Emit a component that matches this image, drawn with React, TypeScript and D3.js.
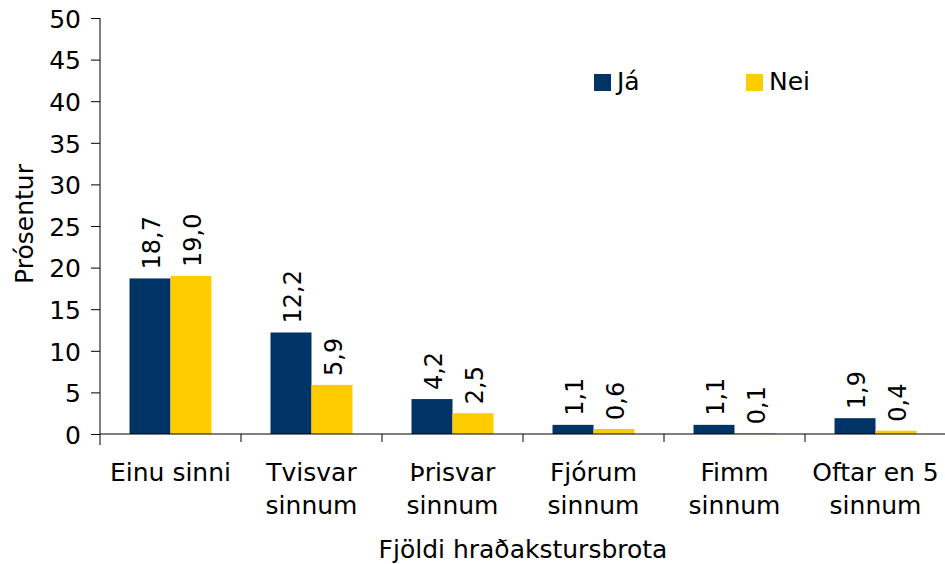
import React, { useEffect, useRef } from "react";
import * as d3 from "d3";

const categories = [
  ["Einu sinni"],
  ["Tvisvar", "sinnum"],
  ["Þrisvar", "sinnum"],
  ["Fjórum", "sinnum"],
  ["Fimm", "sinnum"],
  ["Oftar en 5", "sinnum"],
];
const seriesNames = ["Já", "Nei"];
const jaValues = [18.7, 12.2, 4.2, 1.1, 1.1, 1.9];
const neiValues = [19.0, 5.9, 2.5, 0.6, 0.1, 0.4];
const yTicks = [0, 5, 10, 15, 20, 25, 30, 35, 40, 45, 50];
const colors = ["#003366", "#FFCC00"];

const FONT = "Verdana, 'DejaVu Sans', sans-serif";

const App = () => {
  const svgRef = useRef<SVGSVGElement>(null);

  useEffect(() => {
    const svg = d3.select(svgRef.current);
    svg.selectAll("*").remove();

    const width = 945, height = 564;
    const margin = { top: 18, right: -1, bottom: 130, left: 100 };
    const plotBottom = height - margin.bottom;

    const keys = categories.map(c => c.join(" "));
    const series = [jaValues, neiValues];

    const x0 = d3.scaleBand()
      .domain(keys)
      .range([margin.left, width - margin.right])
      .padding(0);

    const x1 = d3.scaleBand()
      .domain(seriesNames)
      .range([0, x0.bandwidth()])
      .paddingInner(0)
      .paddingOuter(0.72);

    const y = d3.scaleLinear()
      .domain([0, 50])
      .range([plotBottom, margin.top]);

    // bars
    seriesNames.forEach((name, si) => {
      svg.append("g")
        .selectAll("rect")
        .data(series[si])
        .join("rect")
        .attr("x", (d, i) => x0(keys[i])! + x1(name)!)
        .attr("y", d => y(d))
        .attr("width", x1.bandwidth())
        .attr("height", d => y(0) - y(d))
        .attr("fill", colors[si]);

      svg.append("g")
        .selectAll("text")
        .data(series[si])
        .join("text")
        .attr("transform", (d, i) => {
          const cx = x0(keys[i])! + x1(name)! + x1.bandwidth() / 2 + 2;
          return `translate(${cx},${y(d) - 9}) rotate(-90)`;
        })
        .attr("dy", "0.35em")
        .attr("font-family", FONT)
        .attr("font-size", 24)
        .attr("fill", "#000")
        .text(d => d.toFixed(1).replace(".", ","));
    });

    // y axis
    const yAxis = svg.append("g")
      .attr("transform", `translate(${margin.left},0)`)
      .call(d3.axisLeft(y).tickValues(yTicks).tickSize(9).tickSizeOuter(0).tickPadding(10));
    yAxis.selectAll("text")
      .attr("font-family", FONT)
      .attr("font-size", 25)
      .attr("fill", "#000")
      .attr("dy", "0.37em");
    yAxis.select(".domain").attr("d", `M0,${margin.top}V${plotBottom + 11}`).attr("stroke", "#000");
    yAxis.selectAll(".tick line").attr("stroke", "#000");

    // x axis
    const xAxis = svg.append("g");
    xAxis.append("line")
      .attr("x1", margin.left).attr("x2", width)
      .attr("y1", plotBottom).attr("y2", plotBottom)
      .attr("stroke", "#000");
    xAxis.selectAll("line.tick")
      .data(keys.slice(1))
      .join("line")
      .attr("class", "tick")
      .attr("x1", d => x0(d)!).attr("x2", d => x0(d)!)
      .attr("y1", plotBottom).attr("y2", plotBottom + 8)
      .attr("stroke", "#000");

    const catLabels = xAxis.selectAll("text.cat")
      .data(categories)
      .join("text")
      .attr("class", "cat")
      .attr("font-family", FONT)
      .attr("font-size", 25)
      .attr("text-anchor", "middle")
      .attr("fill", "#000");
    catLabels.each(function (lines, i) {
      const t = d3.select(this);
      const cx = x0(keys[i])! + x0.bandwidth() / 2;
      lines.forEach((line, li) => {
        t.append("tspan")
          .attr("x", cx)
          .attr("y", plotBottom + 47 + li * 33)
          .text(line);
      });
    });

    // axis titles
    svg.append("text")
      .attr("x", (margin.left + width - margin.right) / 2)
      .attr("y", 558)
      .attr("text-anchor", "middle")
      .attr("font-family", FONT)
      .attr("font-size", 25)
      .text("Fjöldi hraðakstursbrota");

    svg.append("text")
      .attr("transform", `translate(33,${(margin.top + plotBottom) / 2 - 2}) rotate(-90)`)
      .attr("text-anchor", "middle")
      .attr("font-family", FONT)
      .attr("font-size", 25)
      .text("Prósentur");

    // legend
    const legendX = [594, 746];
    const legend = svg.append("g");
    seriesNames.forEach((name, si) => {
      legend.append("rect")
        .attr("x", legendX[si]).attr("y", 74)
        .attr("width", 17).attr("height", 17)
        .attr("fill", colors[si]);
      legend.append("text")
        .attr("x", legendX[si] + 23).attr("y", 90)
        .attr("font-family", FONT)
        .attr("font-size", 25)
        .text(name);
    });
  }, []);

  return (
    <svg
      ref={svgRef}
      width={945}
      height={564}
      style={{ position: "absolute", left: 0, top: 0, background: "#fff" }}
    ></svg>
  );
};

export default App;
